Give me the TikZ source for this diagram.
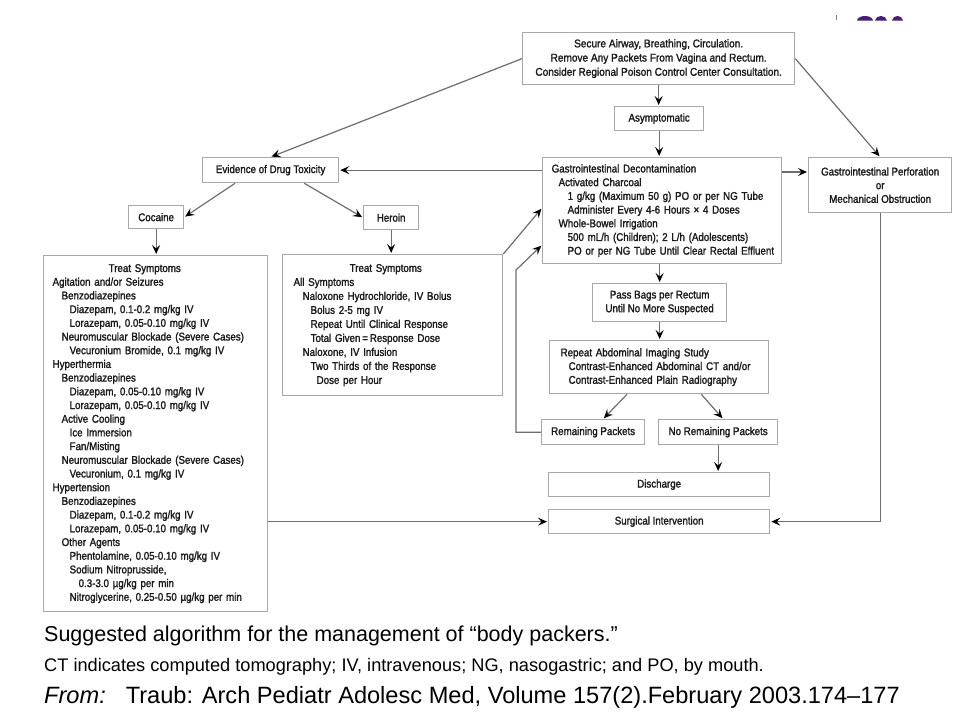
\documentclass[tikz,border=0pt]{standalone}
\usepackage{fontspec}
\setmainfont{Liberation Sans}
\newfontfamily\chartfont[FakeStretch=0.87,FakeBold=1.6]{Liberation Sans}
\newfontfamily\topfont[FakeStretch=0.90,FakeBold=1.6]{Liberation Sans}
\usetikzlibrary{arrows.meta,calc}
\definecolor{boxgray}{HTML}{A8A8A8}
\definecolor{conncol}{HTML}{6E6E6E}
\definecolor{txtc}{HTML}{1A1A1A}
\definecolor{domepurple}{HTML}{4A1D78}
\newcommand\chartsize{\chartfont\fontsize{11.2}{13.7}\selectfont}
\tikzset{
  box/.style={draw=boxgray, line width=1.3pt, rectangle, inner sep=0pt, font=\chartsize, text=txtc},
  conn/.style={draw=conncol, line width=1.2pt, -{Stealth[length=9pt,width=8pt,inset=3.5pt,color=black]}, shorten >=1pt},
  captxt/.style={anchor=west, inner sep=0pt, text=black}
}
\begin{document}
\begin{tikzpicture}[x=1pt,y=-1pt]
\useasboundingbox (0,0) rectangle (960,720);
\fill[white] (0,0) rectangle (960,720);
% cropped title remnants
\draw[gray, line width=0.8pt] (836,15) -- (836,20);
\fill[domepurple] (857,20.5) .. controls (858,14.5) and (872,14.5) .. (873,20.5) -- cycle;
\fill[domepurple] (875,20.5) .. controls (876,14.5) and (886,14.5) .. (887,20.5) -- cycle;
\fill[domepurple] (892,20.5) .. controls (893,14.5) and (902,14.5) .. (903,20.5) -- cycle;

% boxes
\node[box, anchor=north west, minimum width=272pt, minimum height=52pt, align=center,
      font=\topfont\fontsize{11.2}{14.2}\selectfont] (top) at (522,32)
 {Secure Airway, Breathing, Circulation.\\Remove Any Packets From Vagina and Rectum.\\Consider Regional Poison Control Center Consultation.};
\node[box, anchor=north west, minimum width=89pt, minimum height=24pt] (asym) at (614,106) {Asymptomatic};
\node[box, anchor=north west, minimum width=136pt, minimum height=25pt] (evid) at (202,157) {Evidence of Drug Toxicity};
\node[box, anchor=north west, text width=221pt, inner xsep=9pt, minimum height=106pt, align=left] (decon) at (542,157)
 {\mbox{Gastrointestinal Decontamination}\\
  \hspace*{7pt}\mbox{Activated Charcoal}\\
  \hspace*{16pt}\mbox{1 g/kg (Maximum 50 g) PO or per NG Tube}\\
  \hspace*{16pt}\mbox{Administer Every 4-6 Hours × 4 Doses}\\
  \hspace*{7pt}\mbox{Whole-Bowel Irrigation}\\
  \hspace*{16pt}\mbox{500 mL/h (Children); 2 L/h (Adolescents)}\\
  \hspace*{16pt}\mbox{PO or per NG Tube Until Clear Rectal Effluent}};
\node[box, anchor=north west, minimum width=143pt, minimum height=55pt, align=center] (perf) at (808,157)
 {Gastrointestinal Perforation\\or\\Mechanical Obstruction};
\node[box, anchor=north west, minimum width=55pt, minimum height=23pt] (coc) at (128,205) {Cocaine};
\node[box, anchor=north west, minimum width=55pt, minimum height=24pt] (her) at (363,205) {Heroin};
\node[box, anchor=north west, text width=206pt, inner xsep=9pt, minimum height=356pt, align=left] (treatC) at (43,255)
 {\hspace*{56pt}\mbox{Treat Symptoms}\\
  \mbox{Agitation and/or Seizures}\\
  \hspace*{9pt}\mbox{Benzodiazepines}\\
  \hspace*{17pt}\mbox{Diazepam, 0.1-0.2 mg/kg IV}\\
  \hspace*{17pt}\mbox{Lorazepam, 0.05-0.10 mg/kg IV}\\
  \hspace*{9pt}\mbox{Neuromuscular Blockade (Severe Cases)}\\
  \hspace*{17pt}\mbox{Vecuronium Bromide, 0.1 mg/kg IV}\\
  \mbox{Hyperthermia}\\
  \hspace*{9pt}\mbox{Benzodiazepines}\\
  \hspace*{17pt}\mbox{Diazepam, 0.05-0.10 mg/kg IV}\\
  \hspace*{17pt}\mbox{Lorazepam, 0.05-0.10 mg/kg IV}\\
  \hspace*{9pt}\mbox{Active Cooling}\\
  \hspace*{17pt}\mbox{Ice Immersion}\\
  \hspace*{17pt}\mbox{Fan/Misting}\\
  \hspace*{9pt}\mbox{Neuromuscular Blockade (Severe Cases)}\\
  \hspace*{17pt}\mbox{Vecuronium, 0.1 mg/kg IV}\\
  \mbox{Hypertension}\\
  \hspace*{9pt}\mbox{Benzodiazepines}\\
  \hspace*{17pt}\mbox{Diazepam, 0.1-0.2 mg/kg IV}\\
  \hspace*{17pt}\mbox{Lorazepam, 0.05-0.10 mg/kg IV}\\
  \hspace*{9pt}\mbox{Other Agents}\\
  \hspace*{17pt}\mbox{Phentolamine, 0.05-0.10 mg/kg IV}\\
  \hspace*{17pt}\mbox{Sodium Nitroprusside,}\\
  \hspace*{26pt}\mbox{0.3-3.0 µg/kg per min}\\
  \hspace*{17pt}\mbox{Nitroglycerine, 0.25-0.50 µg/kg per min}};
\node[box, anchor=north west, text width=198pt, inner xsep=11pt, minimum height=141pt, align=left,
      font=\chartfont\fontsize{11.2}{14}\selectfont] (treatH) at (282,254)
 {\hspace*{56pt}\mbox{Treat Symptoms}\\
  \mbox{All Symptoms}\\
  \hspace*{9pt}\mbox{Naloxone Hydrochloride, IV Bolus}\\
  \hspace*{17pt}\mbox{Bolus 2-5 mg IV}\\
  \hspace*{17pt}\mbox{Repeat Until Clinical Response}\\
  \hspace*{17pt}\mbox{Total Given\,=\,Response Dose}\\
  \hspace*{9pt}\mbox{Naloxone, IV Infusion}\\
  \hspace*{17pt}\mbox{Two Thirds of the Response}\\
  \hspace*{23pt}\mbox{Dose per Hour}};
\node[box, anchor=north west, minimum width=134pt, minimum height=38pt, align=center] (pass) at (592,283)
 {Pass Bags per Rectum\\Until No More Suspected};
\node[box, anchor=north west, text width=197pt, inner xsep=11pt, minimum height=53pt, align=left] (rep) at (549,340)
 {\mbox{Repeat Abdominal Imaging Study}\\
  \hspace*{8pt}\mbox{Contrast-Enhanced Abdominal CT and/or}\\
  \hspace*{8pt}\mbox{Contrast-Enhanced Plain Radiography}};
\node[box, anchor=north west, minimum width=103pt, minimum height=25pt] (rem) at (541,419) {Remaining Packets};
\node[box, anchor=north west, minimum width=119pt, minimum height=25pt] (norem) at (658,419) {No Remaining Packets};
\node[box, anchor=north west, minimum width=221pt, minimum height=24pt] (dis) at (548,472) {Discharge};
\node[box, anchor=north west, minimum width=221pt, minimum height=24pt] (surg) at (548,509) {Surgical Intervention};

% connectors
\draw[conn] (top.south) -- (top.south |- asym.north);
\draw[conn] (top.west) -- (evid.north);
\draw[conn] (top.east) -- (perf.north);
\draw[conn] (asym.south) -- (asym.south |- decon.north);
\draw[conn] (decon.west |- evid.east) -- (evid.east);
\draw[conn] (decon.east |- 0,172) -- (perf.west |- 0,172);
\draw[conn] ([xshift=33pt]evid.south west) -- (coc.east);
\draw[conn] ([xshift=-35pt]evid.south east) -- (her.west);
\draw[conn] (coc.south) -- (coc.south |- treatC.north);
\draw[conn] (her.south) -- (her.south |- treatH.north);
\draw[conn] (treatH.north east) -- (decon.west |- 0,208);
\draw[conn] (pass.north |- decon.south) -- (pass.north);
\draw[conn] (pass.south) -- (pass.south |- rep.north);
\draw[conn] ([xshift=78pt]rep.south west) -- ([xshift=10pt]rem.north);
\draw[conn] ([xshift=-68pt]rep.south east) -- ([xshift=5pt]norem.north);
\draw[conn] (norem.south) -- (norem.south |- dis.north);
\coordinate (loopA) at (516,270);
\draw[conn] (rem.west) -| (loopA) -- (decon.west |- 0,245);
\draw[conn] (treatC.east |- surg.west) -- (surg.west);
\draw[conn] (perf.south) |- (surg.east);

% caption
\node[captxt, font=\fontsize{21.5}{24}\selectfont] (cap1) at (44,636)
 {Suggested algorithm for the management of “body packers.”};
\node[captxt, font=\fontsize{18.2}{20}\selectfont] (cap2) at (44,667)
 {CT indicates computed tomography; IV, intravenous; NG, nasogastric; and PO, by mouth.};
\node[captxt, font=\fontsize{23.6}{27}\selectfont] (cap3) at (44,697)
 {\textit{From:}\hspace{20pt}Traub: Arch Pediatr Adolesc Med, Volume 157(2).February 2003.174–177};
\end{tikzpicture}
\end{document}
